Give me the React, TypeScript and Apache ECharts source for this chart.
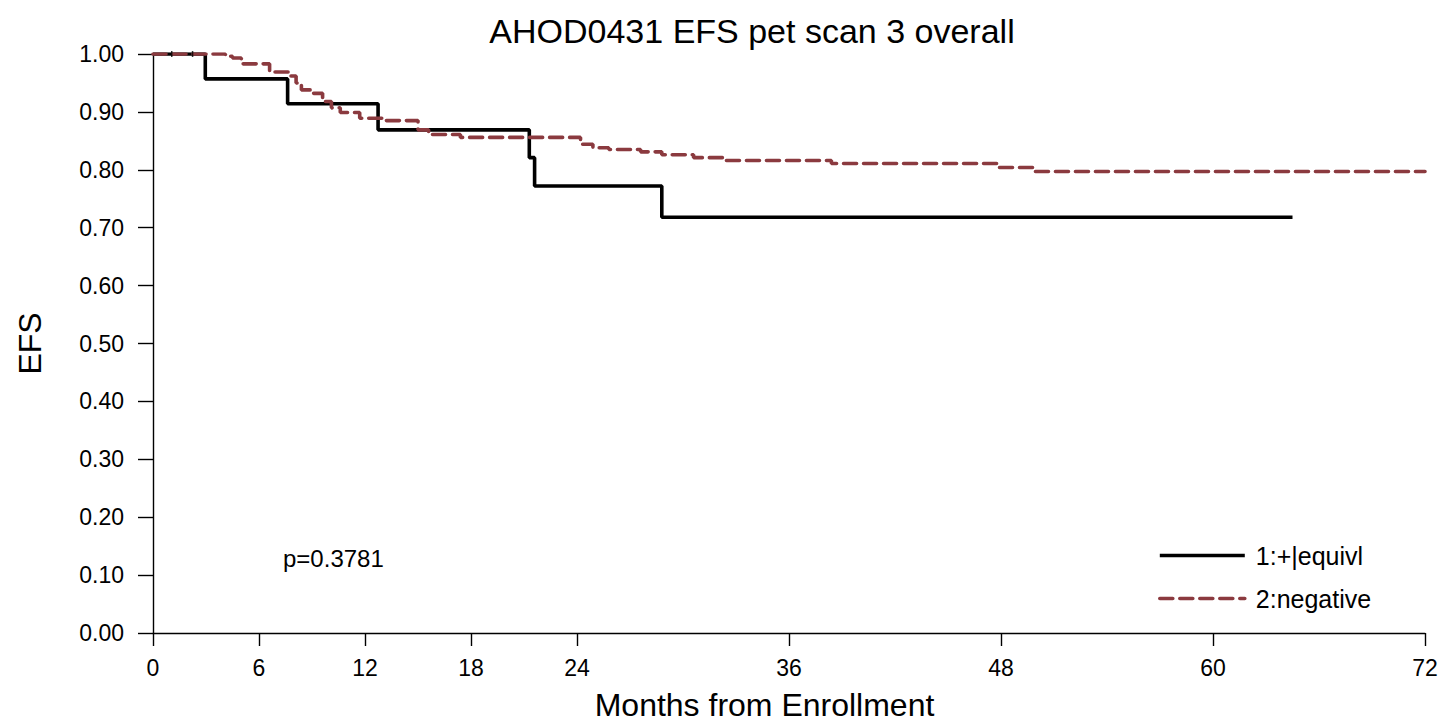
import { useEffect, useRef } from 'react';
import * as echarts from 'echarts';

// Kaplan-Meier steps: [months, EFS]
const posEquivl: [number, number][] = [
  [0, 1], [2.96, 0.957], [7.62, 0.914], [12.74, 0.869], [21.3, 0.821],
  [21.6, 0.772], [28.8, 0.718], [64.5, 0.718],
];
const negative: [number, number][] = [
  [0, 1], [4.1, 0.996], [4.5, 0.993], [5.0, 0.983], [6.6, 0.969], [7.8, 0.962],
  [8.1, 0.95], [8.4, 0.938], [8.9, 0.932], [9.6, 0.918], [10.1, 0.907],
  [10.6, 0.899], [11.7, 0.889], [13.1, 0.885], [15.0, 0.869], [15.6, 0.861],
  [17.4, 0.856], [24.2, 0.844], [24.9, 0.838], [25.8, 0.835], [27.6, 0.831],
  [28.8, 0.826], [30.6, 0.821], [32.3, 0.816], [38.4, 0.811], [47.9, 0.804],
  [49.8, 0.797], [72, 0.797],
];
const censorMarks: [number, number][] = [[1.06, 1], [2.24, 1]];
const xTicks = [0, 6, 12, 18, 24, 36, 48, 60, 72];
const seriesNames = ['1:+|equivl', '2:negative'];
const pValue = 'p=0.3781';

const FONT = 'Liberation Sans, Arial, sans-serif';
const RED = '#8b3a3f';

export default function App() {
  const ref = useRef<HTMLDivElement>(null);
  useEffect(() => {
    document.body.style.margin = '0';
    if (!ref.current) return;
    const chart = echarts.init(ref.current, undefined, { renderer: 'svg' });
    chart.setOption({
      animation: false,
      textStyle: { fontFamily: FONT, color: '#000' },
      title: {
        text: 'AHOD0431 EFS pet scan 3 overall',
        left: 747,
        top: 9,
        textAlign: 'center',
        textStyle: { fontFamily: FONT, fontSize: 34, fontWeight: 'normal', color: '#000' },
      },
      grid: { left: 153, right: 19, top: 54, bottom: 90 },
      legend: {
        orient: 'vertical',
        left: 1158,
        top: 543,
        padding: 0,
        itemWidth: 85,
        itemHeight: 14,
        itemGap: 18,
        data: seriesNames,
        itemStyle: { opacity: 0 },
        lineStyle: { width: 3.6 },
        textStyle: { fontFamily: FONT, fontSize: 25, color: '#000', padding: [0, 0, 0, 6] },
      },
      xAxis: {
        type: 'value',
        min: 0,
        max: 72,
        name: 'Months from Enrollment',
        nameLocation: 'middle',
        nameGap: 56,
        nameTextStyle: { fontFamily: FONT, fontSize: 32, color: '#000', padding: [0, 49, 0, 0] },
        axisLine: { lineStyle: { color: '#000', width: 1.4 } },
        axisTick: { length: 13, lineStyle: { color: '#000', width: 1.4 }, customValues: xTicks },
        axisLabel: { fontFamily: FONT, fontSize: 23, color: '#000', margin: 23, customValues: xTicks },
        splitLine: { show: false },
      },
      yAxis: {
        type: 'value',
        min: 0,
        max: 1,
        interval: 0.1,
        name: 'EFS',
        nameLocation: 'middle',
        nameGap: 107,
        nameTextStyle: { fontFamily: FONT, fontSize: 32, color: '#000' },
        axisLine: { show: true, lineStyle: { color: '#000', width: 1.4 } },
        axisTick: { show: true, length: 15, lineStyle: { color: '#000', width: 1.4 } },
        axisLabel: {
          fontFamily: FONT, fontSize: 23, color: '#000', margin: 29,
          formatter: (v: number) => v.toFixed(2),
        },
        splitLine: { show: false },
      },
      graphic: [
        {
          type: 'text',
          left: 283,
          top: 546,
          style: { text: pValue, font: `24px ${FONT}`, fill: '#000' },
        },
      ],
      series: [
        {
          name: seriesNames[0],
          type: 'line',
          step: 'end',
          symbol: 'none',
          data: posEquivl,
          lineStyle: { color: '#000', width: 3.6 },
          itemStyle: { color: '#000' },
          z: 3,
        },
        {
          name: seriesNames[1],
          type: 'line',
          step: 'end',
          symbol: 'none',
          data: negative,
          lineStyle: { color: RED, width: 3.6, type: [13, 7], cap: 'round' },
          itemStyle: { color: RED },
          z: 4,
        },
        {
          type: 'scatter',
          data: censorMarks,
          symbol: 'rect',
          symbolSize: [1.5, 6],
          itemStyle: { color: '#000' },
          z: 5,
        },
      ],
    });
    return () => chart.dispose();
  }, []);
  return <div ref={ref} style={{ width: 1444, height: 726 }} />;
}
